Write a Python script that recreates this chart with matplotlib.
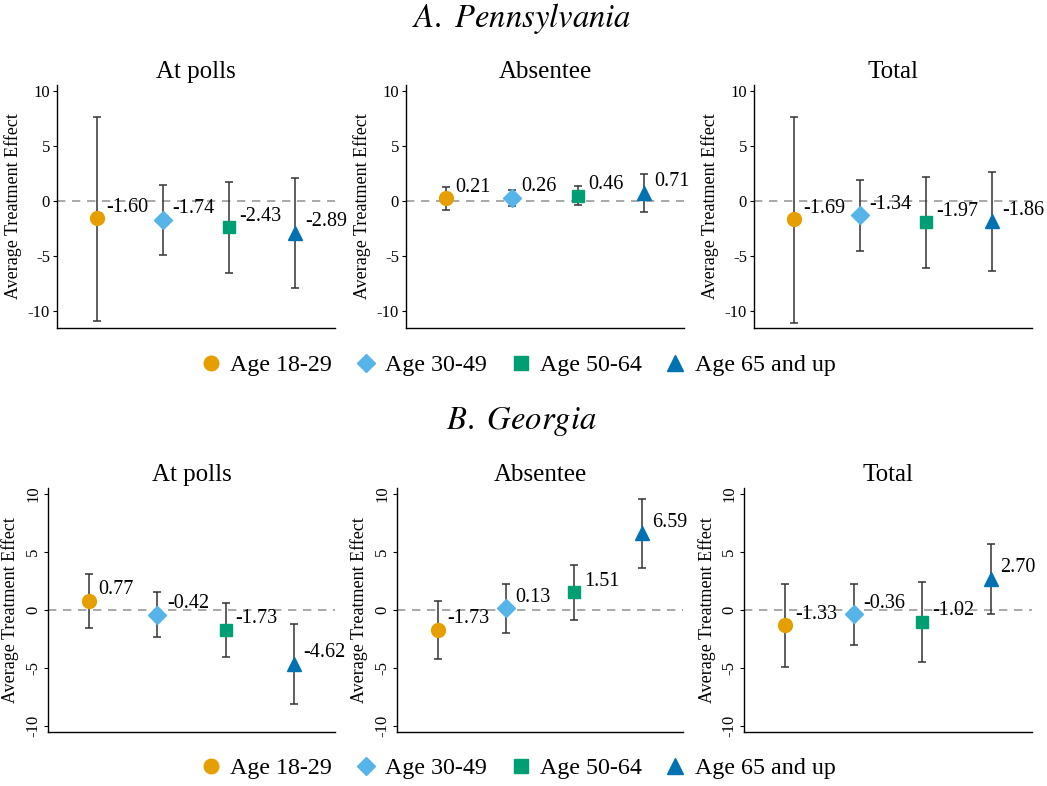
import matplotlib
matplotlib.use("Agg")
import matplotlib.pyplot as plt
from matplotlib.lines import Line2D

plt.rcParams["font.family"] = ["Liberation Serif", "DejaVu Serif"]
plt.rcParams["mathtext.fontset"] = "stix"
plt.rcParams["axes.unicode_minus"] = False

groups = ["Age 18-29", "Age 30-49", "Age 50-64", "Age 65 and up"]
modes = ["At polls", "Absentee", "Total"]
colors = ["#E69F00", "#56B4E9", "#009E73", "#0072B2"]
markers = ["o", "D", "s", "^"]
msizes = [10, 9, 9, 10.5]

# Pennsylvania
pa_polls_est = [-1.60, -1.74, -2.43, -2.89]
pa_polls_lo = [-10.88, -4.95, -6.59, -7.89]
pa_polls_hi = [7.64, 1.45, 1.69, 2.08]

pa_abs_est = [0.21, 0.26, 0.46, 0.71]
pa_abs_lo = [-0.88, -0.45, -0.39, -1.06]
pa_abs_hi = [1.27, 1.00, 1.33, 2.45]

pa_tot_est = [-1.69, -1.34, -1.97, -1.86]
pa_tot_lo = [-11.06, -4.56, -6.13, -6.40]
pa_tot_hi = [7.64, 1.84, 2.14, 2.63]

# Georgia
ga_polls_est = [0.77, -0.42, -1.73, -4.62]
ga_polls_lo = [-1.58, -2.36, -4.08, -8.07]
ga_polls_hi = [3.10, 1.52, 0.60, -1.24]

ga_abs_est = [-1.73, 0.13, 1.51, 6.59]
ga_abs_lo = [-4.22, -2.01, -0.83, 3.65]
ga_abs_hi = [0.75, 2.21, 3.85, 9.54]

ga_tot_est = [-1.33, -0.36, -1.02, 2.70]
ga_tot_lo = [-4.89, -3.02, -4.51, -0.32]
ga_tot_hi = [2.21, 2.27, 2.41, 5.66]

W, H = 1047, 786
fig = plt.figure(figsize=(W / 100, H / 100), dpi=100)

rows = [
    {
        "title": r"$A.\ Pennsylvania$", "title_y": 18,
        "lefts": [57, 406, 754], "rights": [335, 684, 1032], "top": 85, "bottom": 328,
        "ylim": (-11.55, 10.5), "rot": 0, "legend_y": 365,
        "data": [(pa_polls_est, pa_polls_lo, pa_polls_hi),
                 (pa_abs_est, pa_abs_lo, pa_abs_hi),
                 (pa_tot_est, pa_tot_lo, pa_tot_hi)],
    },
    {
        "title": r"$B.\ Georgia$", "title_y": 421,
        "lefts": [48, 397, 744], "rights": [335, 683, 1032], "top": 488, "bottom": 732,
        "ylim": (-10.5, 10.5), "rot": 90, "legend_y": 768,
        "data": [(ga_polls_est, ga_polls_lo, ga_polls_hi),
                 (ga_abs_est, ga_abs_lo, ga_abs_hi),
                 (ga_tot_est, ga_tot_lo, ga_tot_hi)],
    },
]

xs = [1, 2, 3, 4]

for row in rows:
    fig.text(0.498, 1 - row["title_y"] / H, row["title"], ha="center", va="center", fontsize=23.5)
    for j, mode in enumerate(modes):
        l, r = row["lefts"][j], row["rights"][j]
        rect = [l / W, 1 - row["bottom"] / H, (r - l) / W, (row["bottom"] - row["top"]) / H]
        ax = fig.add_axes(rect)
        est, lo, hi = row["data"][j]
        ax.axhline(0, color="#999999", linestyle=(0, (5, 4)), linewidth=1.2, zorder=1)
        for i in range(4):
            ax.errorbar(xs[i], est[i], yerr=[[est[i] - lo[i]], [hi[i] - est[i]]],
                        fmt="none", ecolor="#333333", elinewidth=1.1, capsize=2.8,
                        capthick=1.1, zorder=2)
            ax.plot(xs[i], est[i], marker=markers[i], color=colors[i],
                    markersize=msizes[i], linestyle="none", zorder=3)
            ax.annotate(f"{est[i]:.2f}", (xs[i], est[i]), xytext=(7, 8),
                        textcoords="offset points", ha="left", va="center",
                        fontsize=14.5, annotation_clip=False)
        ax.set_xlim(0.4, 4.6)
        ax.set_ylim(*row["ylim"])
        ax.set_yticks([-10, -5, 0, 5, 10])
        ax.set_xticks([])
        ax.spines["top"].set_visible(False)
        ax.spines["right"].set_visible(False)
        ax.spines["left"].set_linewidth(1.0)
        ax.spines["bottom"].set_linewidth(1.0)
        ax.tick_params(axis="y", direction="out", length=3, width=0.8,
                       labelsize=12, pad=2)
        if row["rot"]:
            for lab in ax.get_yticklabels():
                lab.set_rotation(90)
                lab.set_va("center")
        ax.set_ylabel("Average Treatment Effect", fontsize=13, labelpad=4)
        ax.set_title(mode, fontsize=18, pad=5)

    handles = [Line2D([], [], marker=markers[i], color=colors[i], linestyle="none",
                      markersize=msizes[i] + 0.5) for i in range(4)]
    fig.legend(handles, groups, loc="center", bbox_to_anchor=(0.493, 1 - row["legend_y"] / H),
               ncol=4, frameon=False, fontsize=17.3, handletextpad=0.2,
               columnspacing=0.8, handlelength=1.2)

fig.savefig("out.png", dpi=100)
